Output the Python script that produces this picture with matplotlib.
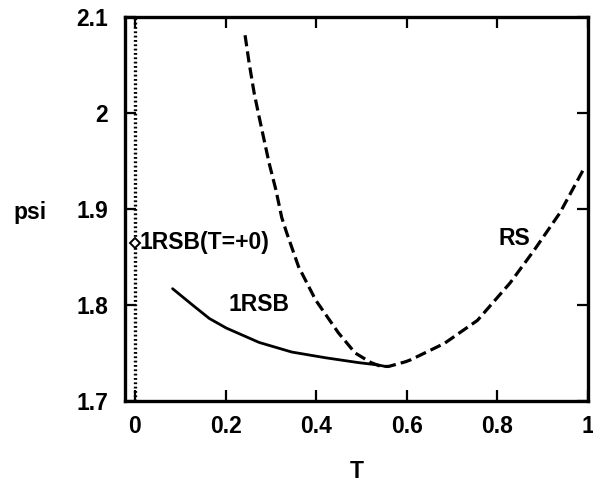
import matplotlib
matplotlib.use("Agg")
import matplotlib.pyplot as plt
from matplotlib.ticker import FuncFormatter

# 1RSB curve (solid)
t_1rsb = [0.083, 0.127, 0.164, 0.2015, 0.274, 0.346, 0.421, 0.493, 0.537, 0.552]
psi_1rsb = [1.817, 1.800, 1.786, 1.776, 1.761, 1.751, 1.745, 1.740, 1.7375, 1.736]

# RS curve (dashed)
t_rs = [0.243, 0.252, 0.263, 0.274, 0.285, 0.296, 0.311, 0.324, 0.335, 0.361,
        0.399, 0.449, 0.486, 0.521, 0.543, 0.560, 0.598, 0.609, 0.683, 0.756,
        0.828, 0.881, 0.938, 0.992]
psi_rs = [2.081, 2.052, 2.021, 1.996, 1.972, 1.948, 1.920, 1.891, 1.875, 1.840,
          1.805, 1.771, 1.750, 1.740, 1.736, 1.736, 1.741, 1.743, 1.760, 1.784,
          1.823, 1.857, 1.896, 1.943]

# 1RSB at T=+0
t0_point = 0.0
psi0_point = 1.865

x_ticks = [0, 0.2, 0.4, 0.6, 0.8, 1.0]
y_ticks = [1.7, 1.8, 1.9, 2.0, 2.1]

plt.rcParams['font.family'] = ['Liberation Sans', 'DejaVu Sans']
plt.rcParams['font.weight'] = 'bold'
FS = 16.5

fig = plt.figure(figsize=(5.93, 4.87), dpi=100)
ax = fig.add_axes([0.2108, 0.1766, 0.7808, 0.7885])

ax.plot(t_1rsb, psi_1rsb, color='black', lw=2.0, solid_capstyle='round',
        solid_joinstyle='round')
ax.plot(t_rs, psi_rs, color='black', lw=2.3, linestyle=(0, (3.5, 1.6)))
ax.axvline(t0_point, color='black', lw=2.4, linestyle=(0, (0.55, 0.75)))
ax.plot([t0_point], [psi0_point], marker='D', markersize=5.5, markerfacecolor='white',
        markeredgecolor='black', markeredgewidth=1.4, zorder=5)

ax.text(0.011, psi0_point, '1RSB(T=+0)', fontsize=FS, fontweight='bold',
        ha='left', va='center')
ax.text(0.274, 1.800, '1RSB', fontsize=FS, fontweight='bold', ha='center', va='center')
ax.text(0.837, 1.869, 'RS', fontsize=FS, fontweight='bold', ha='center', va='center')

ax.set_xlim(-0.022, 0.992)
ax.set_ylim(1.7, 2.1)
ax.set_xticks(x_ticks)
ax.set_yticks(y_ticks)
ax.xaxis.set_major_formatter(FuncFormatter(lambda v, p: '%g' % round(v, 3)))
ax.yaxis.set_major_formatter(FuncFormatter(lambda v, p: '%g' % round(v, 3)))
ax.tick_params(direction='in', length=8, width=1.6, top=True, right=True,
               labelsize=FS)
ax.tick_params(axis='x', pad=10)
ax.tick_params(axis='y', pad=12)
for lab in ax.get_xticklabels() + ax.get_yticklabels():
    lab.set_fontweight('bold')
for s in ax.spines.values():
    s.set_linewidth(2.4)

ax.set_xlabel('T', fontsize=FS, fontweight='bold', labelpad=16)
fig.text(30 / 593, 1 - 212 / 487, 'psi', fontsize=FS, fontweight='bold',
         ha='center', va='center')

fig.savefig('out.png', dpi=100)
